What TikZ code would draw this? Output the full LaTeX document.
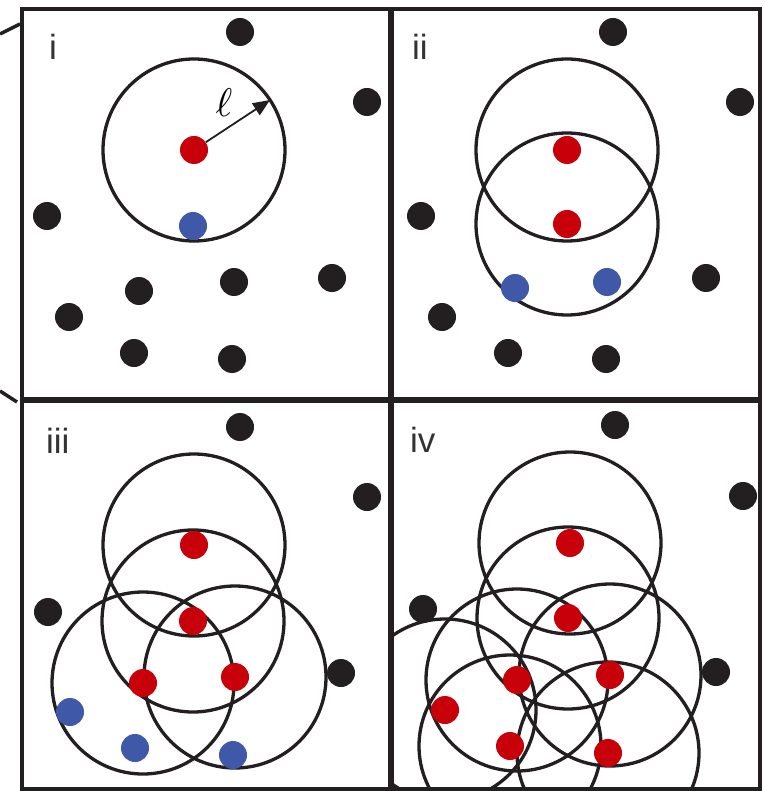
\documentclass[tikz,border=0pt]{standalone}
\usepackage{fontspec}
\setmainfont{Liberation Sans}
\usetikzlibrary{arrows.meta}
\pgfdeclarelayer{bg}
\pgfsetlayers{bg,main}
\definecolor{dotblack}{HTML}{231F20}
\definecolor{dotred}{HTML}{C8000A}
\definecolor{dotblue}{HTML}{3F58A8}
\definecolor{labelgray}{HTML}{333333}
\tikzset{
  dotbase/.style={circle, inner sep=0pt, minimum size=28pt, draw=none},
  bdot/.style={dotbase, fill=dotblack},
  rdot/.style={dotbase, fill=dotred},
  udot/.style={dotbase, fill=dotblue},
  frame/.style={draw=dotblack, line width=4.5pt},
  divider/.style={draw=dotblack, line width=5.5pt},
  reachring/.style={draw=dotblack, line width=3.3pt},
  panellabel/.style={anchor=base west, inner sep=0pt, text=labelgray,
    font=\fontsize{35}{35}\selectfont},
  radiusarrow/.style={draw=dotblack, line width=1.8pt,
    -{Triangle[length=17pt,width=14pt]}},
  pointer/.style={draw=dotblack, line width=3.5pt},
}
\begin{document}
\begin{tikzpicture}[x=1pt,y=-1pt]
\useasboundingbox (0,0) rectangle (764,791);

% ---------- panel i ----------
\node[bdot] (a1) at (240,32) {};
\node[bdot] (a2) at (367,102) {};
\node[bdot] (a3) at (47,216) {};
\node[bdot] (a4) at (139,291) {};
\node[bdot] (a5) at (234,282) {};
\node[bdot] (a6) at (332,278) {};
\node[bdot] (a7) at (69,317) {};
\node[bdot] (a8) at (134,353) {};
\node[bdot] (a9) at (232,359) {};
\node[rdot] (ar1) at (194,150) {};
\node[udot] (au1) at (193,226) {};
\node[panellabel] (li) at (49,60) {i};
\coordinate (tip) at (270,100);
\draw[radiusarrow] (ar1) -- (tip);
\node[inner sep=0pt, scale=4] (ell) at (224,103) {$\ell$};

% ---------- panel ii ----------
\node[bdot] (b1) at (613,32) {};
\node[bdot] (b2) at (740,102) {};
\node[bdot] (b3) at (421,216) {};
\node[bdot] (b4) at (442,317) {};
\node[bdot] (b5) at (508,353) {};
\node[bdot] (b6) at (606,359) {};
\node[bdot] (b7) at (706,278) {};
\node[rdot] (br1) at (567,150) {};
\node[rdot] (br2) at (567,224) {};
\node[udot] (bu1) at (515,288) {};
\node[udot] (bu2) at (607,282) {};
\node[panellabel] (lii) at (412,60) {ii};

% ---------- panel iii ----------
\node[bdot] (c1) at (240,427) {};
\node[bdot] (c2) at (367,497) {};
\node[bdot] (c3) at (48,612) {};
\node[bdot] (c4) at (341,673) {};
\node[rdot] (cr1) at (194,545) {};
\node[rdot] (cr2) at (193,621) {};
\node[rdot] (cr3) at (143,683) {};
\node[rdot] (cr4) at (235,677) {};
\node[udot] (cu1) at (70,712) {};
\node[udot] (cu2) at (135,748) {};
\node[udot] (cu3) at (233,755) {};
\node[panellabel] (liii) at (46,453) {iii};

% ---------- panel iv ----------
\node[bdot] (d1) at (615,425) {};
\node[bdot] (d2) at (743,496) {};
\node[bdot] (d3) at (423,609) {};
\node[bdot] (d4) at (716,672) {};
\node[rdot] (dr1) at (570,543) {};
\node[rdot] (dr2) at (568,618) {};
\node[rdot] (dr3) at (517,680) {};
\node[rdot] (dr4) at (610,675) {};
\node[rdot] (dr5) at (445,710) {};
\node[rdot] (dr6) at (510,746) {};
\node[rdot] (dr7) at (608,753) {};
\node[panellabel] (liv) at (410,452) {iv};

% ---------- search ranges, frames and pointer lines ----------
\begin{pgfonlayer}{bg}
  \fill[white] (0,0) rectangle (764,791);
  \begin{scope}
    \clip (22,9) rectangle (391,400);
    \draw[reachring] (ar1.center) circle[radius=91pt];
  \end{scope}
  \begin{scope}
    \clip (391,9) rectangle (760,400);
    \foreach \c in {br1,br2} \draw[reachring] (\c.center) circle[radius=91pt];
  \end{scope}
  \begin{scope}
    \clip (22,400) rectangle (391,789);
    \foreach \c in {cr1,cr2,cr3,cr4} \draw[reachring] (\c.center) circle[radius=91pt];
  \end{scope}
  \begin{scope}
    \clip (391,400) rectangle (760,789);
    \foreach \c in {dr1,dr2,dr3,dr4,dr5,dr6,dr7} \draw[reachring] (\c.center) circle[radius=91pt];
  \end{scope}
\end{pgfonlayer}

\draw[frame] (22,9) rectangle (760,789);
\draw[divider] (391,9) -- (391,789);
\draw[divider] (22,400) -- (760,400);

\coordinate (p1a) at (0,34);
\coordinate (p1b) at (20,24);
\coordinate (p2a) at (0,391);
\coordinate (p2b) at (17,402);
\draw[pointer] (p1a) -- (p1b);
\draw[pointer] (p2a) -- (p2b);
\end{tikzpicture}
\end{document}
